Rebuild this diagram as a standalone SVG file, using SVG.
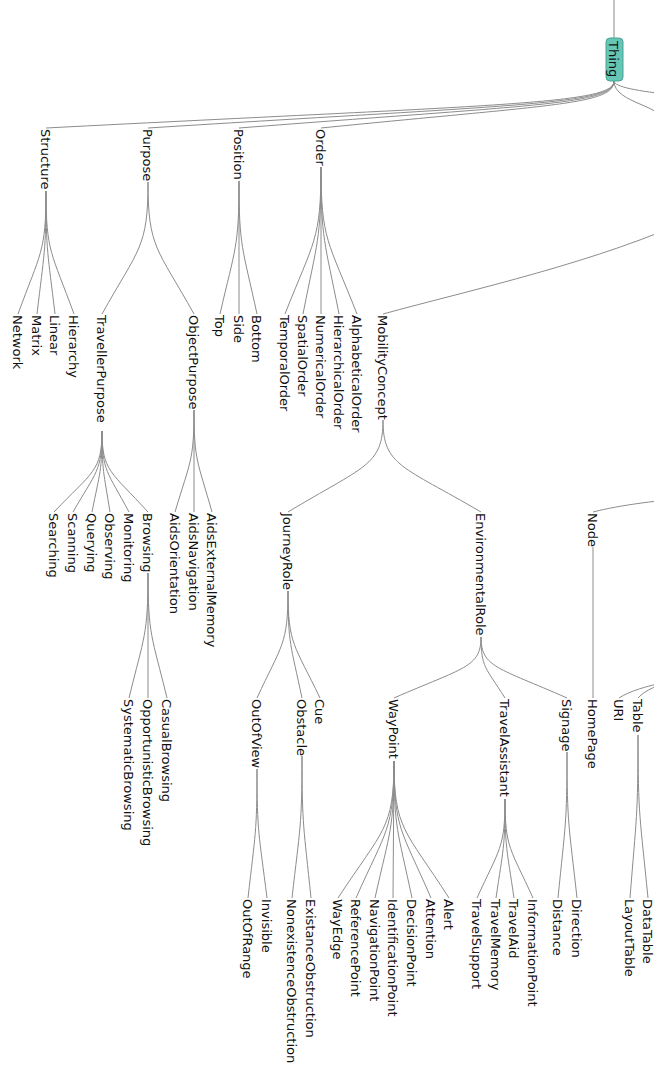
<svg xmlns="http://www.w3.org/2000/svg" width="654" height="1068" viewBox="0 0 654 1068">
<style>
.link{fill:none;stroke:#8c8c8c;stroke-width:1}
.label{font-family:"DejaVu Sans","Liberation Sans",sans-serif;font-size:13px;fill:#111}
.root{fill:#66c5b5;stroke:#4aa596;stroke-width:1}
</style>
<rect width="654" height="1068" fill="#ffffff"/>
<g id="connectors">
<path class="link" d="M614,0 L614,38"/>
<path class="link" d="M614,81 C614,104.5 500.4,104.5 46,128"/>
<path class="link" d="M614,81 C614,104.5 520.8,104.5 148,128"/>
<path class="link" d="M614,81 C614,104.5 539,104.5 239,128"/>
<path class="link" d="M614,81 C614,104.5 555.4,104.5 321,128"/>
<path class="link" d="M614,81 C614,104.5 1000,104.5 1000,128"/>
<path class="link" d="M614,81 C614,104.5 668,104.5 668,128"/>
<path class="link" d="M46,191 C46,252.5 40.4,252.5 18,314"/>
<path class="link" d="M46,191 C46,252.5 44.2,252.5 37,314"/>
<path class="link" d="M46,191 C46,252.5 47.8,252.5 55,314"/>
<path class="link" d="M46,191 C46,252.5 51.6,252.5 74,314"/>
<path class="link" d="M148,182 C148,248 138.8,248 102,314"/>
<path class="link" d="M148,182 C148,248 157.2,248 194,314"/>
<path class="link" d="M239,181 C239,247.5 235.2,247.5 220,314"/>
<path class="link" d="M239,181 L239,314"/>
<path class="link" d="M239,181 C239,247.5 242.6,247.5 257,314"/>
<path class="link" d="M321,167 C321,240.5 313.8,240.5 285,314"/>
<path class="link" d="M321,167 C321,240.5 317.4,240.5 303,314"/>
<path class="link" d="M321,167 L321,314"/>
<path class="link" d="M321,167 C321,240.5 324.6,240.5 339,314"/>
<path class="link" d="M321,167 C321,240.5 328.2,240.5 357,314"/>
<path class="link" d="M700,215 C600,262 470,290 383,314"/>
<path class="link" d="M102,431 C102,471.5 92.4,471.5 54,512"/>
<path class="link" d="M102,431 C102,471.5 96.2,471.5 73,512"/>
<path class="link" d="M102,431 C102,471.5 100,471.5 92,512"/>
<path class="link" d="M102,431 C102,471.5 103.6,471.5 110,512"/>
<path class="link" d="M102,431 C102,471.5 107.4,471.5 129,512"/>
<path class="link" d="M102,431 C102,471.5 111.2,471.5 148,512"/>
<path class="link" d="M194,410 C194,461 190.2,461 175,512"/>
<path class="link" d="M194,410 L194,512"/>
<path class="link" d="M194,410 C194,461 197.6,461 212,512"/>
<path class="link" d="M383,420 C383,466 364,466 288,512"/>
<path class="link" d="M383,420 C383,466 402.6,466 481,512"/>
<path class="link" d="M700,497 C660,500 620,505 593,512"/>
<path class="link" d="M148,573 C148,635.5 144.2,635.5 129,698"/>
<path class="link" d="M148,573 L148,698"/>
<path class="link" d="M148,573 C148,635.5 151.8,635.5 167,698"/>
<path class="link" d="M288,591 C288,644.5 281.8,644.5 257,698"/>
<path class="link" d="M288,591 C288,644.5 290.8,644.5 302,698"/>
<path class="link" d="M288,591 C288,644.5 294.4,644.5 320,698"/>
<path class="link" d="M481,637 C481,667.5 463.6,667.5 394,698"/>
<path class="link" d="M481,637 C481,667.5 485.8,667.5 505,698"/>
<path class="link" d="M481,637 C481,667.5 498.2,667.5 567,698"/>
<path class="link" d="M593,547 L593,698"/>
<path class="link" d="M720,672 C690,678 640,684 619,698"/>
<path class="link" d="M720,672 C690,678 652,682 638,698"/>
<path class="link" d="M257,769 C257,833.5 255.2,833.5 248,898"/>
<path class="link" d="M257,769 C257,833.5 259,833.5 267,898"/>
<path class="link" d="M302,756 C302,827 300,827 292,898"/>
<path class="link" d="M302,756 C302,827 303.8,827 311,898"/>
<path class="link" d="M394,761 C394,829.5 382.8,829.5 338,898"/>
<path class="link" d="M394,761 C394,829.5 386.4,829.5 356,898"/>
<path class="link" d="M394,761 C394,829.5 390.2,829.5 375,898"/>
<path class="link" d="M394,761 L393,898"/>
<path class="link" d="M394,761 C394,829.5 397.6,829.5 412,898"/>
<path class="link" d="M394,761 C394,829.5 401.4,829.5 431,898"/>
<path class="link" d="M394,761 C394,829.5 405,829.5 449,898"/>
<path class="link" d="M505,799 C505,848.5 499.4,848.5 477,898"/>
<path class="link" d="M505,799 C505,848.5 503.2,848.5 496,898"/>
<path class="link" d="M505,799 C505,848.5 506.8,848.5 514,898"/>
<path class="link" d="M505,799 C505,848.5 510.6,848.5 533,898"/>
<path class="link" d="M567,752 C567,825 565.2,825 558,898"/>
<path class="link" d="M567,752 C567,825 569,825 577,898"/>
<path class="link" d="M638,735 C638,816.5 636.4,816.5 630,898"/>
<path class="link" d="M638,735 C638,816.5 640,816.5 648,898"/>
</g>
<g id="n-Thing"><rect class="root" x="606" y="38" width="17" height="43" rx="4"/><text class="label" transform="translate(614,41) rotate(90)" dy="0.35em">Thing</text></g>
<g id="n-Structure"><text class="label" transform="translate(46,129) rotate(90)" dy="0.35em">Structure</text></g>
<g id="n-Purpose"><text class="label" transform="translate(148,129) rotate(90)" dy="0.35em">Purpose</text></g>
<g id="n-Position"><text class="label" transform="translate(239,129) rotate(90)" dy="0.35em">Position</text></g>
<g id="n-Order"><text class="label" transform="translate(321,129) rotate(90)" dy="0.35em">Order</text></g>
<g id="n-Network"><text class="label" transform="translate(18,315) rotate(90)" dy="0.35em">Network</text></g>
<g id="n-Matrix"><text class="label" transform="translate(37,315) rotate(90)" dy="0.35em">Matrix</text></g>
<g id="n-Linear"><text class="label" transform="translate(55,315) rotate(90)" dy="0.35em">Linear</text></g>
<g id="n-Hierarchy"><text class="label" transform="translate(74,315) rotate(90)" dy="0.35em">Hierarchy</text></g>
<g id="n-TravellerPurpose"><text class="label" transform="translate(102,315) rotate(90)" dy="0.35em">TravellerPurpose</text></g>
<g id="n-ObjectPurpose"><text class="label" transform="translate(194,315) rotate(90)" dy="0.35em">ObjectPurpose</text></g>
<g id="n-Top"><text class="label" transform="translate(220,315) rotate(90)" dy="0.35em">Top</text></g>
<g id="n-Side"><text class="label" transform="translate(239,315) rotate(90)" dy="0.35em">Side</text></g>
<g id="n-Bottom"><text class="label" transform="translate(257,315) rotate(90)" dy="0.35em">Bottom</text></g>
<g id="n-TemporalOrder"><text class="label" transform="translate(285,315) rotate(90)" dy="0.35em">TemporalOrder</text></g>
<g id="n-SpatialOrder"><text class="label" transform="translate(303,315) rotate(90)" dy="0.35em">SpatialOrder</text></g>
<g id="n-NumericalOrder"><text class="label" transform="translate(321,315) rotate(90)" dy="0.35em">NumericalOrder</text></g>
<g id="n-HierarchicalOrder"><text class="label" transform="translate(339,315) rotate(90)" dy="0.35em">HierarchicalOrder</text></g>
<g id="n-AlphabeticalOrder"><text class="label" transform="translate(357,315) rotate(90)" dy="0.35em">AlphabeticalOrder</text></g>
<g id="n-MobilityConcept"><text class="label" transform="translate(383,315) rotate(90)" dy="0.35em">MobilityConcept</text></g>
<g id="n-Searching"><text class="label" transform="translate(54,513) rotate(90)" dy="0.35em">Searching</text></g>
<g id="n-Scanning"><text class="label" transform="translate(73,513) rotate(90)" dy="0.35em">Scanning</text></g>
<g id="n-Querying"><text class="label" transform="translate(92,513) rotate(90)" dy="0.35em">Querying</text></g>
<g id="n-Observing"><text class="label" transform="translate(110,513) rotate(90)" dy="0.35em">Observing</text></g>
<g id="n-Monitoring"><text class="label" transform="translate(129,513) rotate(90)" dy="0.35em">Monitoring</text></g>
<g id="n-Browsing"><text class="label" transform="translate(148,513) rotate(90)" dy="0.35em">Browsing</text></g>
<g id="n-AidsOrientation"><text class="label" transform="translate(175,513) rotate(90)" dy="0.35em">AidsOrientation</text></g>
<g id="n-AidsNavigation"><text class="label" transform="translate(194,513) rotate(90)" dy="0.35em">AidsNavigation</text></g>
<g id="n-AidsExternalMemory"><text class="label" transform="translate(212,513) rotate(90)" dy="0.35em">AidsExternalMemory</text></g>
<g id="n-JourneyRole"><text class="label" transform="translate(288,513) rotate(90)" dy="0.35em">JourneyRole</text></g>
<g id="n-EnvironmentalRole"><text class="label" transform="translate(481,513) rotate(90)" dy="0.35em">EnvironmentalRole</text></g>
<g id="n-Node"><text class="label" transform="translate(593,513) rotate(90)" dy="0.35em">Node</text></g>
<g id="n-SystematicBrowsing"><text class="label" transform="translate(129,699) rotate(90)" dy="0.35em">SystematicBrowsing</text></g>
<g id="n-OpportunisticBrowsing"><text class="label" transform="translate(148,699) rotate(90)" dy="0.35em">OpportunisticBrowsing</text></g>
<g id="n-CasualBrowsing"><text class="label" transform="translate(167,699) rotate(90)" dy="0.35em">CasualBrowsing</text></g>
<g id="n-OutOfView"><text class="label" transform="translate(257,699) rotate(90)" dy="0.35em">OutOfView</text></g>
<g id="n-Obstacle"><text class="label" transform="translate(302,699) rotate(90)" dy="0.35em">Obstacle</text></g>
<g id="n-Cue"><text class="label" transform="translate(320,699) rotate(90)" dy="0.35em">Cue</text></g>
<g id="n-WayPoint"><text class="label" transform="translate(394,699) rotate(90)" dy="0.35em">WayPoint</text></g>
<g id="n-TravelAssistant"><text class="label" transform="translate(505,699) rotate(90)" dy="0.35em">TravelAssistant</text></g>
<g id="n-Signage"><text class="label" transform="translate(567,699) rotate(90)" dy="0.35em">Signage</text></g>
<g id="n-HomePage"><text class="label" transform="translate(593,699) rotate(90)" dy="0.35em">HomePage</text></g>
<g id="n-URI"><text class="label" transform="translate(619,699) rotate(90)" dy="0.35em">URI</text></g>
<g id="n-Table"><text class="label" transform="translate(638,699) rotate(90)" dy="0.35em">Table</text></g>
<g id="n-OutOfRange"><text class="label" transform="translate(248,899) rotate(90)" dy="0.35em">OutOfRange</text></g>
<g id="n-Invisible"><text class="label" transform="translate(267,899) rotate(90)" dy="0.35em">Invisible</text></g>
<g id="n-NonexistenceObstruction"><text class="label" transform="translate(292,899) rotate(90)" dy="0.35em">NonexistenceObstruction</text></g>
<g id="n-ExistanceObstruction"><text class="label" transform="translate(311,899) rotate(90)" dy="0.35em">ExistanceObstruction</text></g>
<g id="n-WayEdge"><text class="label" transform="translate(338,899) rotate(90)" dy="0.35em">WayEdge</text></g>
<g id="n-ReferencePoint"><text class="label" transform="translate(356,899) rotate(90)" dy="0.35em">ReferencePoint</text></g>
<g id="n-NavigationPoint"><text class="label" transform="translate(375,899) rotate(90)" dy="0.35em">NavigationPoint</text></g>
<g id="n-IdentificationPoint"><text class="label" transform="translate(393,899) rotate(90)" dy="0.35em">IdentificationPoint</text></g>
<g id="n-DecisionPoint"><text class="label" transform="translate(412,899) rotate(90)" dy="0.35em">DecisionPoint</text></g>
<g id="n-Attention"><text class="label" transform="translate(431,899) rotate(90)" dy="0.35em">Attention</text></g>
<g id="n-Alert"><text class="label" transform="translate(449,899) rotate(90)" dy="0.35em">Alert</text></g>
<g id="n-TravelSupport"><text class="label" transform="translate(477,899) rotate(90)" dy="0.35em">TravelSupport</text></g>
<g id="n-TravelMemory"><text class="label" transform="translate(496,899) rotate(90)" dy="0.35em">TravelMemory</text></g>
<g id="n-TravelAid"><text class="label" transform="translate(514,899) rotate(90)" dy="0.35em">TravelAid</text></g>
<g id="n-InformationPoint"><text class="label" transform="translate(533,899) rotate(90)" dy="0.35em">InformationPoint</text></g>
<g id="n-Distance"><text class="label" transform="translate(558,899) rotate(90)" dy="0.35em">Distance</text></g>
<g id="n-Direction"><text class="label" transform="translate(577,899) rotate(90)" dy="0.35em">Direction</text></g>
<g id="n-LayoutTable"><text class="label" transform="translate(630,899) rotate(90)" dy="0.35em">LayoutTable</text></g>
<g id="n-DataTable"><text class="label" transform="translate(648,899) rotate(90)" dy="0.35em">DataTable</text></g>
</svg>
